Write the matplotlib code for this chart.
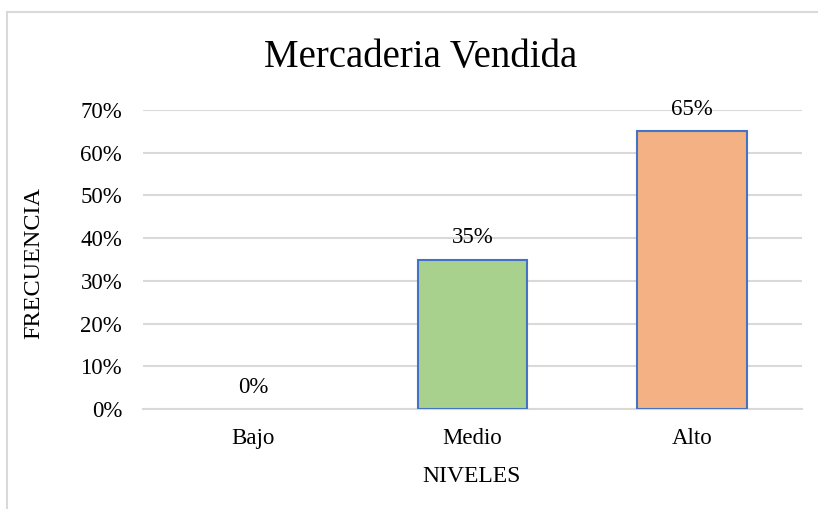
import matplotlib
matplotlib.use("Agg")
import matplotlib.pyplot as plt
from matplotlib.lines import Line2D

categories = ["Bajo", "Medio", "Alto"]
values = [0.0, 0.35, 0.65]
bar_colors = ["#5B9BD5", "#A9D18E", "#F4B183"]
yticks = [0, 0.1, 0.2, 0.3, 0.4, 0.5, 0.6, 0.7]
title = "Mercaderia Vendida"
xlabel = "NIVELES"
ylabel = "FRECUENCIA"

plt.rcParams['font.family'] = ['Liberation Serif', 'DejaVu Serif']

W, H = 818, 509
fig = plt.figure(figsize=(W/100, H/100), dpi=100)
ax = fig.add_axes([143/W, 1-409/H, (802-143)/W, (409-110)/H])

edges = ["none" if v == 0 else "#4472C4" for v in values]
x = list(range(len(categories)))
bars = ax.bar(x, values, width=0.5, color=bar_colors, edgecolor=edges, linewidth=1.5, zorder=3)
for xi, v in zip(x, values):
    ax.annotate(f"{v*100:.0f}%", (xi, v), xytext=(0, 8), textcoords="offset points",
                ha="center", va="bottom", fontsize=16.5)

ax.set_xlim(-0.5, 2.5)
ax.set_ylim(0, 0.7)
ax.set_yticks(yticks)
ax.set_yticklabels([f"{t*100:.0f}%" for t in yticks], fontsize=16.5)
ax.set_xticks(x)
ax.set_xticklabels(categories, fontsize=16.5)
ax.tick_params(axis='both', length=0)
ax.tick_params(axis='y', pad=15)
ax.tick_params(axis='x', pad=14)
ax.grid(axis='y', color='#D9D9D9', linewidth=1.5, zorder=0)
for s in ['top', 'right', 'left']:
    ax.spines[s].set_visible(False)
ax.spines['bottom'].set_color('#D9D9D9')
ax.spines['bottom'].set_linewidth(1.5)

fig.text(421/W, 1-58/H, title, ha='center', va='center', fontsize=28)
fig.text(472/W, 1-476/H, xlabel, ha='center', va='center', fontsize=17)
fig.text(34/W, 1-263/H, ylabel, ha='center', va='center', rotation=90, fontsize=17.5)

# chart frame
fig.add_artist(Line2D([7/W, 7/W], [0, 1-12/H], color='#D9D9D9', linewidth=1.5, transform=fig.transFigure))
fig.add_artist(Line2D([7/W, 1], [1-12/H, 1-12/H], color='#D9D9D9', linewidth=1.5, transform=fig.transFigure))

fig.savefig("out.png", dpi=100)
